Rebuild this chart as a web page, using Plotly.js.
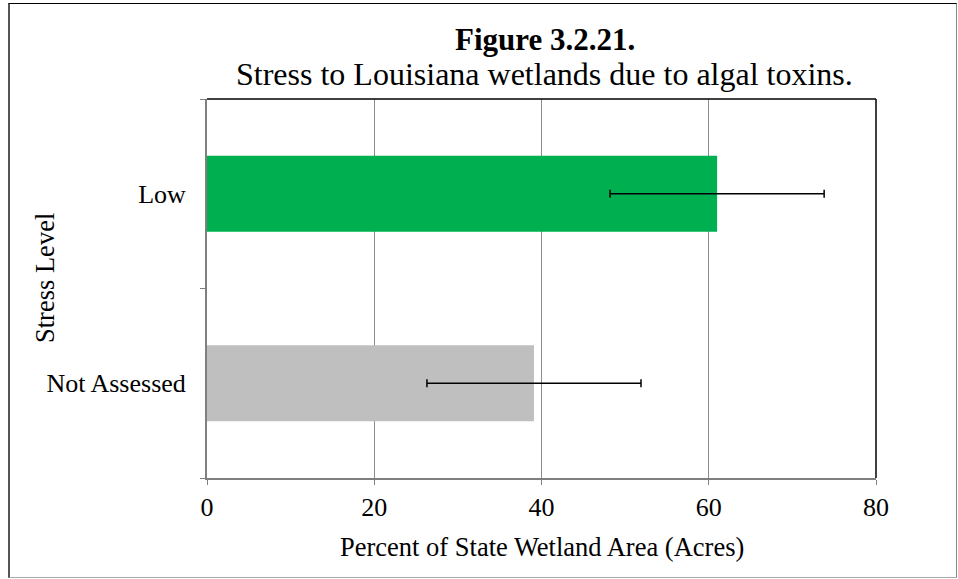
<!DOCTYPE html>
<html>
<head>
<meta charset="utf-8">
<script src="https://cdn.plot.ly/plotly-3.0.1.min.js"></script>
<style>
  html, body { margin: 0; padding: 0; background: #fff; }
  #wrap { position: relative; width: 958px; height: 579px; }
  #chart { position: absolute; left: 0; top: 0; width: 958px; height: 579px; }
  #frame { position: absolute; left: 8px; top: 3px; width: 946px; height: 573px;
           border-top: 1px solid #000; border-right: 1px solid #888; border-bottom: 1px solid #aaa;
           border-left: 2px solid #555; pointer-events: none; }
</style>
</head>
<body>
<div id="wrap">
  <div id="chart"></div>
  <div id="frame"></div>
</div>
<script>
const categories = ["Not Assessed", "Low"];
const percentValues = [39.1, 61.0];
const errorValues = [12.8, 12.8];
const barColors = ["#BFBFBF", "#00B050"];
const xTickValues = [0, 20, 40, 60, 80];
const titleText = "Figure 3.2.21.";
const subtitleText = "Stress to Louisiana wetlands due to algal toxins.";
const xTitleText = "Percent of State Wetland Area (Acres)";
const yTitleText = "Stress Level";

const serif = "Liberation Serif, Times New Roman, serif";

const trace = {
  type: "bar",
  orientation: "h",
  y: categories,
  x: percentValues,
  marker: { color: barColors, line: { width: 0 } },
  width: 0.4,
  error_x: { type: "data", array: errorValues, visible: true, color: "#000", thickness: 1.5, width: 4 },
  hoverinfo: "x+y"
};

const layout = {
  width: 958,
  height: 579,
  margin: { l: 207, r: 82, t: 99, b: 101 },
  paper_bgcolor: "#fff",
  plot_bgcolor: "#fff",
  showlegend: false,
  font: { family: serif, color: "#000", size: 26 },
  xaxis: {
    range: [0, 80],
    tickvals: xTickValues,
    ticktext: xTickValues.map(String),
    showgrid: true, gridcolor: "#8c8c8c", gridwidth: 1,
    zeroline: false,
    showline: true, linecolor: "#7f7f7f", linewidth: 2,
    ticks: "outside", ticklen: 5, tickcolor: "#7f7f7f", tickwidth: 1,
    tickfont: { family: serif, size: 26, color: "#000" },
    fixedrange: true
  },
  yaxis: {
    type: "category",
    categoryorder: "array",
    categoryarray: categories,
    range: [-0.5, 1.5],
    showgrid: false, zeroline: false,
    showline: true, linecolor: "#7f7f7f", linewidth: 2,
    ticks: "outside", ticklen: 5, tickcolor: "#7f7f7f", tickwidth: 1,
    tickson: "boundaries",
    ticklabelstandoff: 14,
    tickfont: { family: serif, size: 26, color: "#000" },
    fixedrange: true
  },
  shapes: [
    { type: "line", xref: "paper", yref: "paper", x0: 0, x1: 1, y0: 1, y1: 1, line: { color: "#000", width: 1.5 } },
    { type: "line", xref: "paper", yref: "paper", x0: 1, x1: 1, y0: 0, y1: 1, line: { color: "#000", width: 1.5 } }
  ],
  annotations: [
    { text: "<b>" + titleText + "</b>", xref: "paper", yref: "paper",
      x: 0.505, y: (478 - 40) / 379, xanchor: "center", yanchor: "middle", showarrow: false,
      font: { family: serif, size: 31, color: "#000" } },
    { text: subtitleText, xref: "paper", yref: "paper",
      x: 0.505, y: (478 - 74) / 379, xanchor: "center", yanchor: "middle", showarrow: false,
      font: { family: serif, size: 32, color: "#000" } },
    { text: xTitleText, xref: "paper", yref: "paper",
      x: 0.5, y: (478 - 547) / 379, xanchor: "center", yanchor: "middle", showarrow: false,
      font: { family: serif, size: 26.5, color: "#000" } },
    { text: yTitleText, xref: "paper", yref: "paper", textangle: -90,
      x: (45 - 207) / 669, y: (478 - 278) / 379, xanchor: "center", yanchor: "middle", showarrow: false,
      font: { family: serif, size: 26.5, color: "#000" } }
  ]
};

Plotly.newPlot("chart", [trace], layout, { displayModeBar: false });
</script>
</body>
</html>
